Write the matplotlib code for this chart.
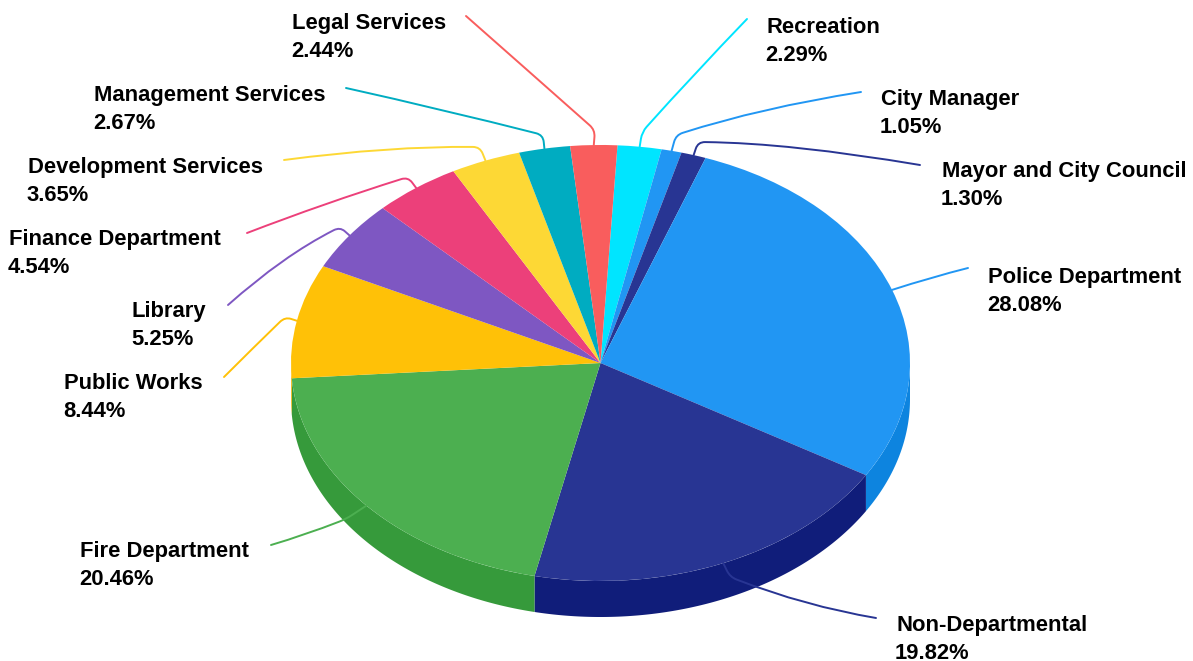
#!/bin/env python
import numpy as np
import matplotlib as mpl
mpl.use('Agg')
import matplotlib.pyplot as plt
from matplotlib.path import Path
from matplotlib.patches import PathPatch

departments = ['Recreation', 'City Manager', 'Mayor and City Council',
               'Police Department', 'Non-Departmental', 'Fire Department',
               'Public Works', 'Library', 'Finance Department',
               'Development Services', 'Management Services', 'Legal Services']
shares = [2.29, 1.05, 1.30, 28.08, 19.82, 20.46, 8.44, 5.25, 4.54, 3.65, 2.67, 2.44]
top_colors = ['#00E5FF', '#2196F3', '#283593', '#2196F3', '#283593', '#4CAF50',
              '#FFC107', '#7E57C2', '#EC407A', '#FDD835', '#00ACC1', '#F95D5D']
side_colors = ['#00B8D4', '#0D84DF', '#101D7A', '#0D84DF', '#101D7A', '#369A3B',
               '#FFB300', '#5E35B1', '#C2185B', '#FBC02D', '#00838F', '#D32F2F']

# label top-left corner and leader knee/bend/end, all in pixels
label_pos = [(766, 17), (881, 89), (942, 161), (988, 267), (896, 615), (80, 541),
             (64, 373), (132, 301), (9, 229), (28, 157), (94, 85), (292, 13)]
knees = [(642, 132), (676, 135), (698, 142), None, (730, 577), (346, 519),
         (285, 317), (340, 227), (408, 177), (480, 147), (543, 135), (595, 130)]
bends = [(693, 75), (760, 108), (790, 143), (932, 277), (805, 606), (305, 535),
         (254, 347), (283, 256), (325, 203), (390, 146), (445, 110), (525, 68)]
ends = [(747, 19), (861, 92), (920, 165), (968, 268), (876, 618), (271, 545),
        (224, 377), (228, 305), (247, 233), (284, 160), (346, 88), (466, 16)]

# pie ellipse geometry in pixels
CX, CY, RX, RY, DEPTH = 600.5, 363, 309.5, 218, 36
W, H = 1193, 661


def px(x, y):
    '''pixel position to data coordinates of the unit pie'''
    return (x - CX) / RX, (CY - y) / RY


def leader_path(start, knee, bend, end, r=7):
    '''start -> rounded knee -> gentle curve to end, in data coordinates'''
    if knee is None:
        verts = [px(*start), px(*bend), px(*end)]
        return Path(verts, [Path.MOVETO, Path.CURVE3, Path.CURVE3])
    s, k, c = np.array(start, float), np.array(knee, float), np.array(bend, float)
    a = k + (s - k) / np.linalg.norm(s - k) * min(r, np.linalg.norm(s - k) / 2)
    b = k + (c - k) / np.linalg.norm(c - k) * r
    verts = [px(*s), px(*a), px(*k), px(*b), px(*c), px(*end)]
    codes = [Path.MOVETO, Path.LINETO, Path.CURVE3, Path.CURVE3, Path.CURVE3, Path.CURVE3]
    return Path(verts, codes)


fig = plt.figure(figsize=(W / 100, H / 100), dpi=100)
ax = fig.add_axes([0, 0, 1, 1])

wedges, _ = ax.pie(shares, colors=top_colors, startangle=86.85, counterclock=False,
                   radius=1, center=(0, 0), wedgeprops={'linewidth': 0, 'zorder': 2})
ax.set_aspect('auto')
ax.set_xlim(px(0, 0)[0], px(W, 0)[0])
ax.set_ylim(px(0, H)[1], px(0, 0)[1])

depth = DEPTH / RY
for wedge, side in zip(wedges, side_colors):
    # extruded rim: only the part of the slice facing down is visible
    t = np.radians(np.linspace(wedge.theta1, wedge.theta2, 400))
    t = t[np.sin(t) <= 0]
    if len(t) < 2:
        continue
    xs = np.cos(t)
    ys = np.sin(t)
    ax.fill(np.r_[xs, xs[::-1]], np.r_[ys, ys[::-1] - depth],
            color=side, lw=0, zorder=1)

for i, name in enumerate(departments):
    wedge = wedges[i]
    mid = np.radians((wedge.theta1 + wedge.theta2) / 2)
    start = (CX + RX * np.cos(mid), CY - RY * np.sin(mid))
    path = leader_path(start, knees[i], bends[i], ends[i])
    ax.add_patch(PathPatch(path, fc='none', ec=top_colors[i], lw=1.4, zorder=3,
                           capstyle='round'))
    lx, ly = label_pos[i]
    ax.text(*px(lx, ly), name, family='Liberation Sans', weight='bold', fontsize=15.8,
            color='black', ha='left', va='top')
    ax.text(*px(lx - 1, ly + 28), '{:.2f}%'.format(shares[i]), family='Liberation Sans',
            weight='bold', fontsize=15.8, color='black', ha='left', va='top')

fig.savefig('out.png', dpi=100)
